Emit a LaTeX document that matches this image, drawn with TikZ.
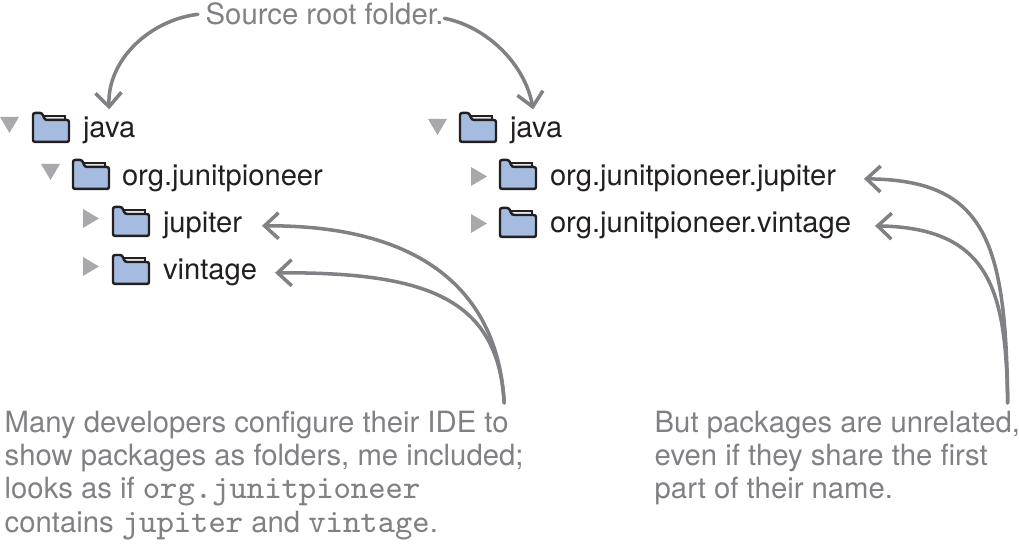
\documentclass[tikz,border=0pt]{standalone}
\usepackage{fontspec}
\setmainfont{TeX Gyre Heros}
\usetikzlibrary{arrows.meta}

\definecolor{inkdark}{HTML}{231F20}
\definecolor{notegray}{HTML}{808085}
\definecolor{togglegray}{HTML}{A7A9AC}
\definecolor{folderblue}{HTML}{A6BBE0}
\definecolor{sheetgray}{HTML}{E6E7E8}

\newcommand{\code}[1]{{\fontsize{9.4pt}{9.4pt}\selectfont\ttfamily #1}}

\tikzset{
  treelabel/.style={anchor=base west, inner sep=0pt, outer sep=1mm, text=inkdark, font=\fontsize{8.3pt}{9pt}\selectfont},
  note/.style={anchor=north west, inner sep=0pt, align=left, text=notegray, font=\fontsize{8.33pt}{9.5pt}\selectfont},
  callout/.style={draw=notegray, line width=1pt, line cap=round, -{Straight Barb[length=1.4mm, width=2.6mm]}},
  pics/folder/.style={code={
    \draw[fill=sheetgray, draw=inkdark, line width=0.5pt] (0.11,-0.03) rectangle (0.32,-0.09);
    \draw[fill=folderblue, draw=inkdark, line width=0.7pt, rounded corners=0.6pt]
      (0,0) -- (0.09,0) -- (0.12,-0.07) -- (0.36,-0.07) -- (0.36,-0.29) -- (0,-0.29) -- cycle;
  }},
  pics/toggledown/.style={code={
    \fill[togglegray] (0,0) -- (0.19,0) -- (0.095,-0.16) -- cycle;
  }},
  pics/toggleright/.style={code={
    \fill[togglegray] (0,0) -- (0.16,-0.095) -- (0,-0.19) -- cycle;
  }}
}

\begin{document}
\begin{tikzpicture}

   \useasboundingbox (0,0) rectangle (10.19,5.44);

   % left tree
   \pic (toggleleft)   at (0.00,4.27) {toggledown};
   \pic (folderleft)   at (0.33,4.31) {folder};
   \node [treelabel] (javaleft)    at (0.73,4.06) {java};
   \pic (toggleorg)    at (0.41,3.80) {toggledown};
   \pic (folderorg)    at (0.73,3.84) {folder};
   \node [treelabel] (orgleft)     at (1.12,3.58) {org.junitpioneer};
   \pic (togglejup)    at (0.83,3.35) {toggleright};
   \pic (folderjup)    at (1.13,3.37) {folder};
   \node [treelabel] (jupiterleft) at (1.53,3.11) {jupiter};
   \pic (togglevin)    at (0.83,2.87) {toggleright};
   \pic (foldervin)    at (1.13,2.89) {folder};
   \node [treelabel] (vintageleft) at (1.53,2.64) {vintage};

   % right tree
   \pic (toggleright)  at (4.28,4.25) {toggledown};
   \pic (folderright)  at (4.60,4.31) {folder};
   \node [treelabel] (javaright)    at (5.00,4.06) {java};
   \pic (togglerjup)   at (4.71,3.77) {toggleright};
   \pic (folderrjup)   at (5.00,3.84) {folder};
   \node [treelabel] (jupiterright) at (5.40,3.58) {org.junitpioneer.jupiter};
   \pic (togglervin)   at (4.71,3.30) {toggleright};
   \pic (folderrvin)   at (5.00,3.36) {folder};
   \node [treelabel] (vintageright) at (5.40,3.11) {org.junitpioneer.vintage};

   % notes
   \node [note, anchor=base west] (sourcenote) at (2.05,5.19) {Source root folder.};
   \node [note] (idenote) at (0.04,1.34) {Many developers configure their IDE to\\
      show packages as folders, me included;\\
      looks as if \code{org.junitpioneer}\\
      contains \code{jupiter} and \code{vintage}.};
   \node [note] (packagenote) at (6.54,1.34) {But packages are unrelated,\\
      even if they share the first\\
      part of their name.};

   % callouts
   \draw [callout] ([xshift=-0.07cm]sourcenote.west) .. controls (1.50,5.24) and (1.07,4.84) .. ([yshift=-0.02cm]javaleft.north);
   \draw [callout] ([yshift=-0.04cm]sourcenote.east) .. controls (4.88,5.17) and (5.25,4.79) .. ([xshift=-0.03cm,yshift=-0.02cm]javaright.north);

   \draw [callout] ([xshift=-0.2cm,yshift=0.07cm]idenote.north east) .. controls (4.98,2.54) and (4.20,3.19) .. ([xshift=0.1cm]jupiterleft.east);
   \draw [callout] ([xshift=-0.2cm,yshift=0.07cm]idenote.north east) .. controls (4.98,2.44) and (4.30,2.72) .. ([xshift=0.08cm]vintageleft.east);
   \draw [callout] ([xshift=-0.13cm,yshift=0.07cm]packagenote.north east) .. controls (10.06,3.04) and (9.85,3.64) .. ([xshift=0.18cm]jupiterright.east);
   \draw [callout] ([xshift=-0.13cm,yshift=0.07cm]packagenote.north east) .. controls (10.06,2.54) and (9.90,3.16) .. ([xshift=0.14cm]vintageright.east);

\end{tikzpicture}
\end{document}
